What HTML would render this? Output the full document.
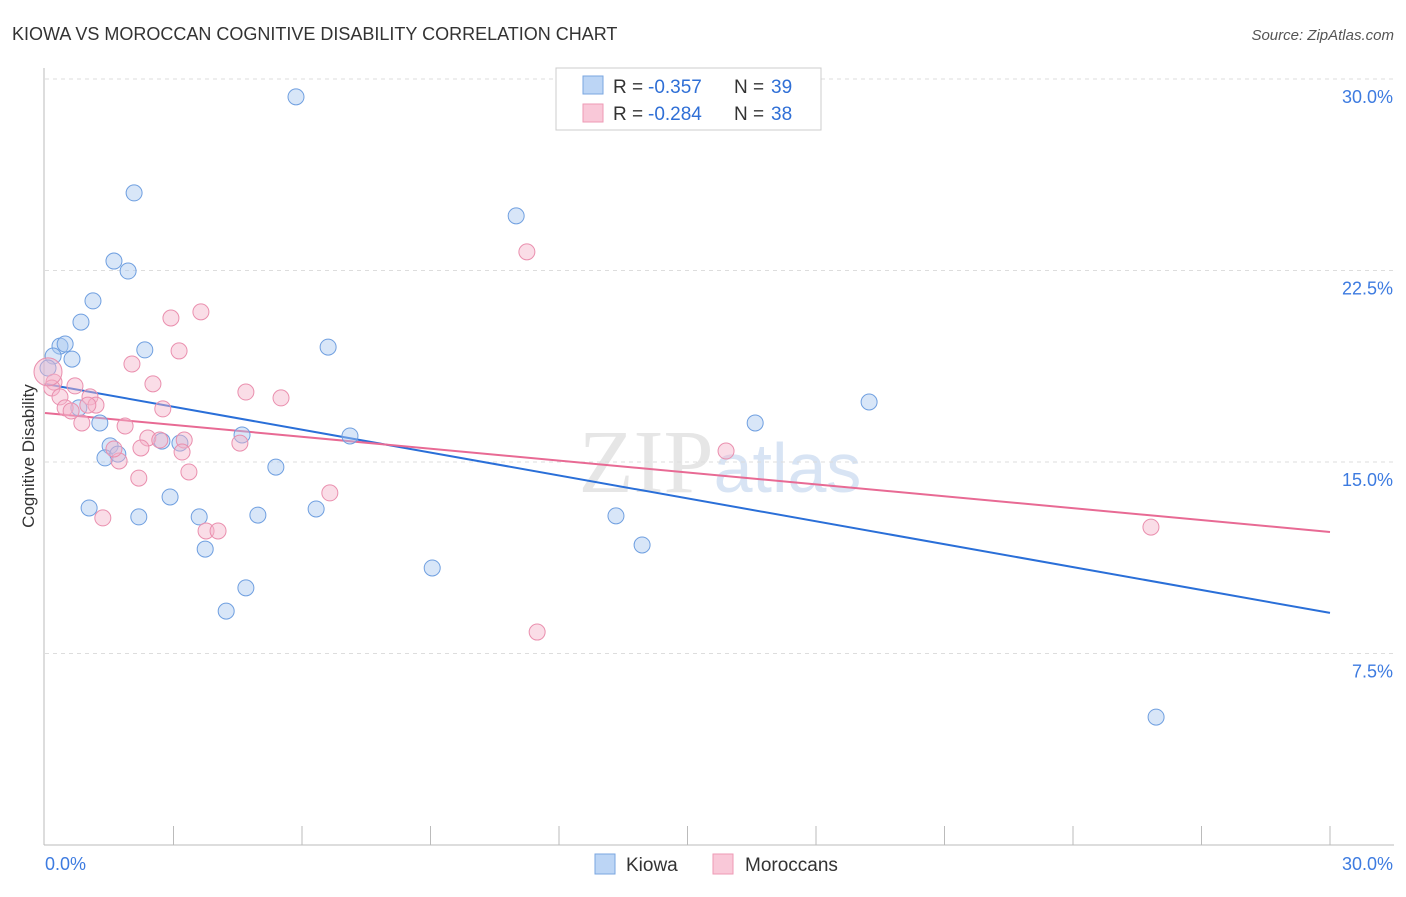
<!DOCTYPE html>
<html><head><meta charset="utf-8"><style>
body{margin:0;background:#fff;font-family:"Liberation Sans",sans-serif}
#wrap{position:relative;width:1406px;height:892px}
</style></head><body>
<div id="wrap">
<svg id="chart" width="1406" height="892">
<text x="12" y="40" font-size="18" fill="#333">KIOWA VS MOROCCAN COGNITIVE DISABILITY CORRELATION CHART</text>
<text x="1394" y="40" font-size="15" fill="#555" font-style="italic" text-anchor="end">Source: ZipAtlas.com</text>
<text x="34" y="456" font-size="17" fill="#333" text-anchor="middle" transform="rotate(-90 34 456)">Cognitive Disability</text>
<text x="720" y="492" font-size="90" fill="#e6e6e6" text-anchor="middle" font-family="Liberation Serif">ZIP<tspan fill="#d8e4f4" font-family="Liberation Sans" font-size="70">atlas</tspan></text>
<g id="grid"></g><g id="lines"></g><g id="pts"></g>
<g>
<rect x="556" y="68" width="265" height="62" fill="#fff" stroke="#ccc"/>
<rect x="583" y="76" width="20" height="18" fill="#bcd5f5" stroke="#7aa6e0"/>
<text x="613" y="93" font-size="19" fill="#333">R = </text>
<text x="648" y="93" font-size="19" fill="#2f6fd6">-0.357</text>
<text x="734" y="93" font-size="19" fill="#333">N = </text>
<text x="771" y="93" font-size="19" fill="#2f6fd6">39</text>
<rect x="583" y="104" width="20" height="18" fill="#f9c8d8" stroke="#ee9ab5"/>
<text x="613" y="120" font-size="19" fill="#333">R = </text>
<text x="648" y="120" font-size="19" fill="#2f6fd6">-0.284</text>
<text x="734" y="120" font-size="19" fill="#333">N = </text>
<text x="771" y="120" font-size="19" fill="#2f6fd6">38</text>
</g>
<g>
<rect x="595" y="854" width="20" height="20" fill="#bcd5f5" stroke="#7aa6e0"/>
<text x="626" y="871" font-size="19" fill="#333">Kiowa</text>
<rect x="713" y="854" width="20" height="20" fill="#f9c8d8" stroke="#ee9ab5"/>
<text x="745" y="871" font-size="19" fill="#333">Moroccans</text>
</g>
</svg></div>
<script>
const kiowaX=[5.86,2.08,11.00,1.61,1.94,1.12,0.84,0.35,0.47,0.19,0.63,2.33,6.61,0.07,0.79,1.28,16.58,19.24,4.60,7.12,1.52,2.73,3.15,1.40,1.70,5.39,1.03,2.92,2.19,3.60,4.97,6.33,13.33,13.94,3.74,9.04,4.69,4.23,25.94];
const kiowaY=[29.30,25.54,24.64,22.87,22.48,21.31,20.48,19.54,19.62,19.15,19.03,19.39,19.50,18.68,17.12,16.53,16.53,17.35,16.06,16.02,15.63,15.82,15.74,15.16,15.31,14.80,13.20,13.63,12.85,12.85,12.92,13.16,12.89,11.75,11.59,10.85,10.07,9.16,5.01];
const morX=[0.21,0.16,0.70,0.35,0.47,0.61,1.05,1.19,0.86,1.87,2.03,2.52,2.75,2.94,3.64,3.13,4.69,5.51,2.40,2.68,3.25,2.24,3.20,1.73,1.61,3.36,2.19,1.35,3.76,4.04,4.55,6.65,11.25,15.90,11.49,25.82,0.07,1.00];
const morY=[18.13,17.90,17.98,17.55,17.12,17.00,17.55,17.23,16.53,16.41,18.84,18.06,17.08,20.64,20.88,19.35,17.74,17.51,15.94,15.86,15.86,15.55,15.39,15.04,15.51,14.61,14.37,12.81,12.30,12.30,15.74,13.79,23.23,15.43,8.34,12.45,18.53,17.23];
const kiowaTrend=[18.06,9.09];
const morTrend=[16.92,12.26];
const yTicks=[7.5,15.0,22.5,30.0];
const NS="http://www.w3.org/2000/svg";
const sx=v=>45+v*42.833, sy=v=>845-v*25.533;
function mk(t,a,p){const e=document.createElementNS(NS,t);for(const k in a)e.setAttribute(k,a[k]);p.appendChild(e);return e;}
const svg=document.getElementById('chart'),grid=document.getElementById('grid'),lines=document.getElementById('lines'),pts=document.getElementById('pts');
yTicks.forEach(t=>{
 const l=mk('line',{x1:45,x2:1394,y1:sy(t),y2:sy(t),stroke:'#ddd','stroke-dasharray':'4,4'},grid);
 
 
 const tx=mk('text',{x:1393,y:sy(t)+24,'font-size':18,fill:'#3d7be0','text-anchor':'end'},grid);
 tx.textContent=t.toFixed(1)+'%';
 
 
});
const ax=mk('line',{x1:44,x2:44,y1:68,y2:845,stroke:'#bbb'},grid);


const bx=mk('line',{x1:44,x2:1394,y1:845,y2:845,stroke:'#bbb'},grid);


for(let i=1;i<=10;i++){const x=45+i*128.5;
 const tk=mk('line',{x1:x,x2:x,y1:826,y2:845,stroke:'#bbb'},grid);
 
 }
[[0,'start',45],[30,'end',1393]].forEach(([v,a,x])=>{
 const t=mk('text',{x:x,y:870,'font-size':18,fill:'#3d7be0','text-anchor':a},grid);
 t.textContent=v.toFixed(1)+'%';
 
 });
function series(X,Y,fill,stroke,name,big){X.forEach((x,i)=>{
 const r=(big===i)?14:8;
 const c=mk('circle',{cx:sx(x),cy:sy(Y[i]),r:r,fill:fill,'fill-opacity':0.45,stroke:stroke,'stroke-width':1},pts);
 
 });}
series(kiowaX,kiowaY,'#a9c8f0','#6f9fe0','kiowa-point',-1);
series(morX,morY,'#f5b3c9','#ea8fae','moroccan-point',36);
const l1=mk('line',{x1:sx(0),y1:sy(kiowaTrend[0]),x2:sx(30),y2:sy(kiowaTrend[1]),stroke:'#2a6fd8','stroke-width':2},lines);


const l2=mk('line',{x1:sx(0),y1:sy(morTrend[0]),x2:sx(30),y2:sy(morTrend[1]),stroke:'#e86a94','stroke-width':2},lines);


</script>
</body></html>
